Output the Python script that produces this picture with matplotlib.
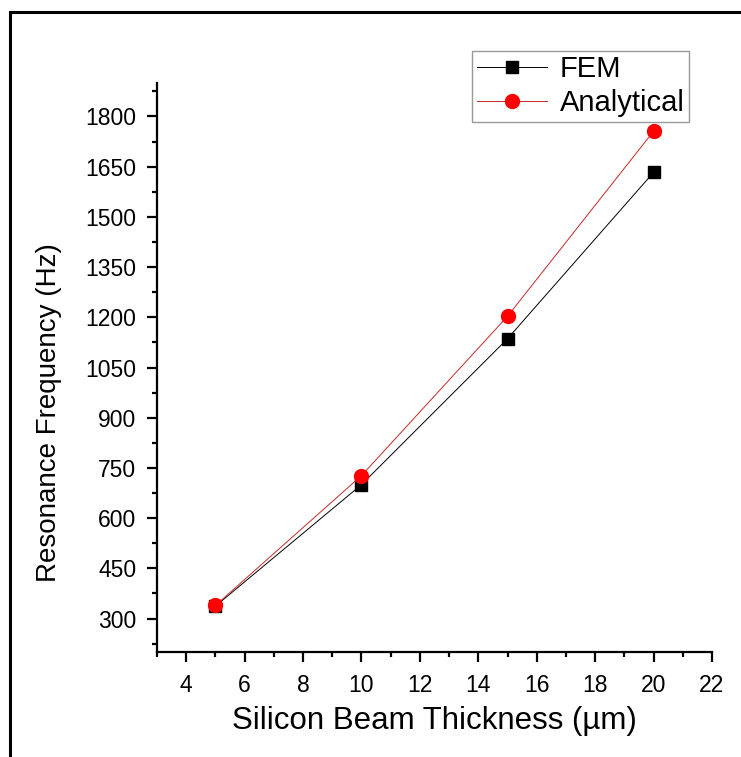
import matplotlib
matplotlib.use("Agg")
import matplotlib.pyplot as plt
from matplotlib.patches import Rectangle
from matplotlib.ticker import MultipleLocator

plt.rcParams['font.family'] = ['Liberation Sans', 'DejaVu Sans']

# beam thickness (um) and resonance frequency (Hz)
thickness = [5, 10, 15, 20]
fem = [337, 700, 1136, 1633]
analytical = [339, 727, 1203, 1756]

fig = plt.figure(figsize=(7.41, 7.57), dpi=100)
ax = fig.add_axes([157/741, 1 - 652/757, 555/741, 569/757])

ax.plot(thickness, fem, color='black', lw=0.7, marker='s', ms=9,
        mec='black', mfc='black', label='FEM')
ax.plot(thickness, analytical, color='#c82828', lw=0.7, marker='o', ms=10,
        mec='red', mfc='red', label='Analytical')

ax.set_xlim(3, 22)
ax.set_ylim(200, 1900)
ax.xaxis.set_minor_locator(MultipleLocator(1))
ax.set_xticks(range(4, 23, 2))
ax.yaxis.set_minor_locator(MultipleLocator(75))
ax.set_yticks(range(300, 1801, 150))

for side in ['top', 'right']:
    ax.spines[side].set_visible(False)
for side in ['left', 'bottom']:
    ax.spines[side].set_linewidth(1.6)

ax.tick_params(which='major', direction='out', length=7, width=1.6,
               labelsize=16.5)
ax.tick_params(axis='x', which='major', pad=9)
ax.tick_params(axis='y', which='major', pad=8)
ax.tick_params(which='minor', direction='out', length=3.5, width=1.6)

ax.set_xlabel('Silicon Beam Thickness (µm)', fontsize=22.5)
ax.set_ylabel('Resonance Frequency (Hz)', fontsize=20)
ax.xaxis.set_label_coords(0.5, -0.095)
ax.yaxis.set_label_coords(-0.171, 0.42)

leg = fig.legend(loc='upper right', bbox_to_anchor=(689/741, 1 - 51/757),
                 fontsize=21, frameon=True, fancybox=False, borderpad=0.15,
                 labelspacing=0.2, handlelength=2.4, handletextpad=0.45,
                 borderaxespad=0)
leg.get_frame().set_edgecolor('#808080')
leg.get_frame().set_linewidth(1.0)

# outer border around the whole figure
fig.patches.append(Rectangle((10/741, -0.1), 2, 1.1 - 12/757,
                             transform=fig.transFigure, fill=False,
                             lw=2.2, ec='black'))

fig.savefig('out.png', dpi=100)
